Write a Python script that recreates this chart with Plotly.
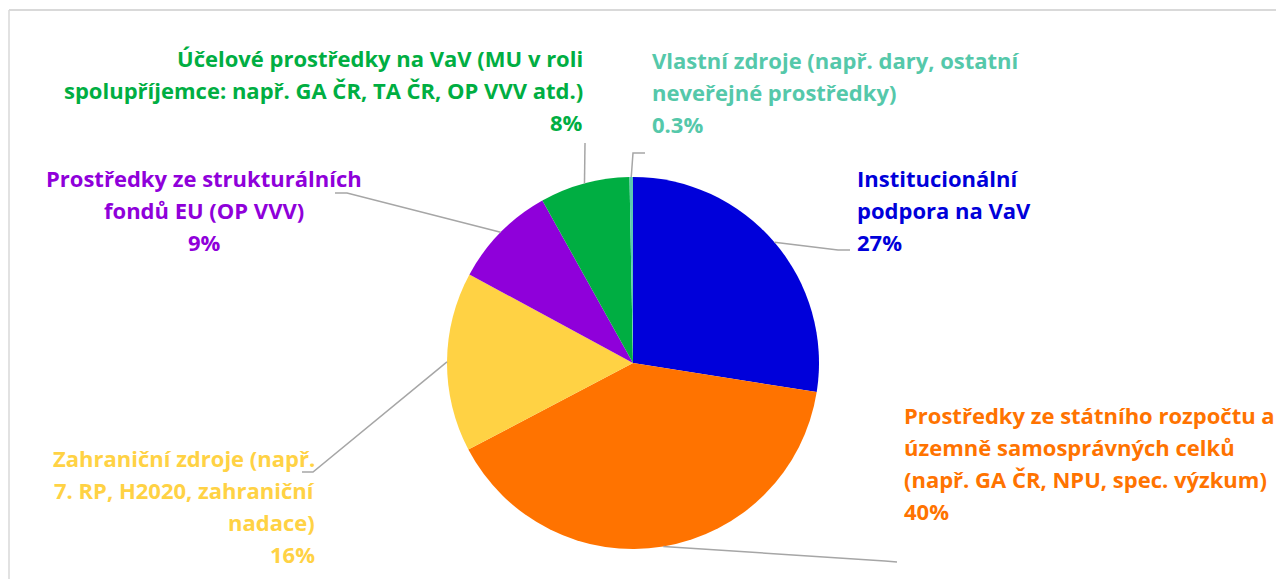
import math
import plotly.graph_objects as go

# ---- data ----
categories = [
    "Institucionální podpora na VaV",
    "Prostředky ze státního rozpočtu a územně samosprávných celků (např. GA ČR, NPU, spec. výzkum)",
    "Zahraniční zdroje (např. 7. RP, H2020, zahraniční nadace)",
    "Prostředky ze strukturálních fondů EU (OP VVV)",
    "Účelové prostředky na VaV (MU v roli spolupříjemce: např. GA ČR, TA ČR, OP VVV atd.)",
    "Vlastní zdroje (např. dary, ostatní neveřejné prostředky)",
]
values = [27.5, 39.8, 15.6, 9.0, 7.8, 0.3]
pct_labels = ["27%", "40%", "16%", "9%", "8%", "0.3%"]
label_lines = [
    ["Institucionální", "podpora na VaV"],
    ["Prostředky ze státního rozpočtu a", "územně samosprávných celků", "(např. GA ČR, NPU, spec. výzkum)"],
    ["Zahraniční zdroje (např.", "7. RP, H2020, zahraniční", "nadace)"],
    ["Prostředky ze strukturálních", "fondů EU (OP VVV)"],
    ["Účelové prostředky na VaV (MU v roli", "spolupříjemce: např. GA ČR, TA ČR, OP VVV atd.)"],
    ["Vlastní zdroje (např. dary, ostatní", "neveřejné prostředky)"],
]
colors = ["#0000DA", "#FF7300", "#FFD244", "#8F00DA", "#00AE42", "#5BC8B0"]
text_colors = ["#0000DA", "#FF7300", "#FFD244", "#8F00DA", "#00AE42", "#55C8AA"]

# ---- layout constants (pixels, screen coords; page body has an 8px offset) ----
W, H = 1284, 579
OFF = 8
CX, CY, R = 633, 363, 186
label_pos = [
    (855, 178, "left"),
    (902, 415, "left"),
    (317, 458, "right"),
    (204, 178, "center"),
    (585, 58, "right"),
    (650, 60, "left"),
]
LINE_H = 32
leader = [
    ((838, 250), (850, 250)),
    ((885, 561), (897, 562)),
    ((313, 472), (302, 472)),
    ((347, 193), (335, 193)),
    ((585, 143), (585, 143)),
    ((633, 153), (645, 153)),
]
FONT = "Open Sans"
FSIZE = 22

def px(x):
    return (x - OFF) / W

def py(y):
    return 1 - (y - OFF) / H

fig = go.Figure(go.Pie(
    labels=categories,
    values=values,
    sort=False,
    direction="clockwise",
    rotation=0,
    marker=dict(colors=colors, line=dict(width=0)),
    textinfo="none",
    hoverinfo="label+percent",
    showlegend=False,
    domain=dict(x=[px(CX - R), px(CX + R)], y=[py(CY + R), py(CY - R)]),
))

annotations = []
shapes = []
total = sum(values)
cum = 0.0
for i, v in enumerate(values):
    mid = (cum + v / 2) / total * 2 * math.pi
    cum += v
    sx = CX + R * math.sin(mid)
    sy = CY - R * math.cos(mid)
    (ex, ey), (tx, ty) = leader[i]
    path = f"M {px(sx)},{py(sy)} L {px(ex)},{py(ey)} L {px(tx)},{py(ty)}"
    shapes.append(dict(type="path", xref="paper", yref="paper", path=path,
                       line=dict(color="#A6A6A6", width=1.5)))
    x0, y0, xa = label_pos[i]
    lines = label_lines[i] + [pct_labels[i]]
    for k, t in enumerate(lines):
        annotations.append(dict(
            x=px(x0), y=py(y0 + k * LINE_H), xref="paper", yref="paper",
            text=t, showarrow=False, xanchor=xa, yanchor="middle", align=xa,
            font=dict(family=FONT, size=FSIZE, color=text_colors[i], weight="bold"),
        ))

# frame
shapes.append(dict(type="line", xref="paper", yref="paper", x0=px(9), x1=1.0, y0=py(10), y1=py(10),
                   line=dict(color="#D9D9D9", width=2)))
shapes.append(dict(type="line", xref="paper", yref="paper", x0=px(9), x1=px(9), y0=py(10), y1=0,
                   line=dict(color="#D9D9D9", width=1.5)))

fig.update_layout(
    width=W, height=H,
    margin=dict(l=0, r=0, t=0, b=0),
    paper_bgcolor="white",
    plot_bgcolor="white",
    annotations=annotations,
    shapes=shapes,
)

fig.write_html("out.html")
